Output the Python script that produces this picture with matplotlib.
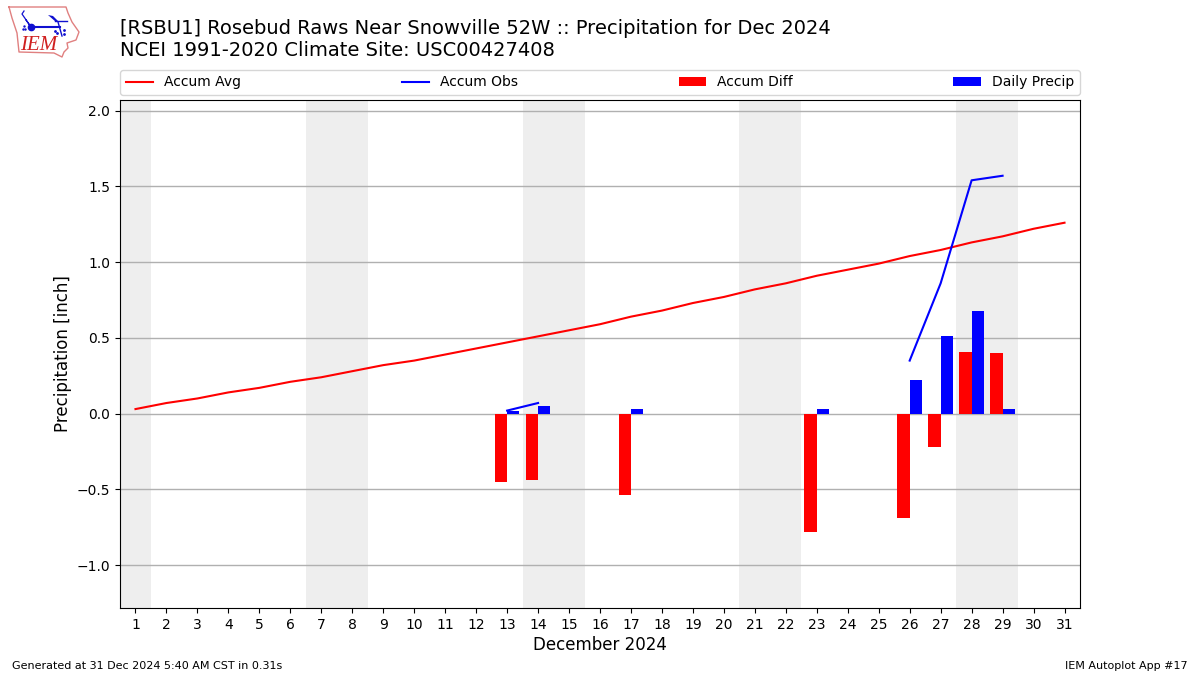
import numpy as np
import matplotlib
matplotlib.use("Agg")
import matplotlib.pyplot as plt

nan = np.nan

days = np.arange(1, 32)
accum_avg = [0.03, 0.07, 0.10, 0.14, 0.17, 0.21, 0.24, 0.28, 0.32, 0.35, 0.39,
             0.43, 0.47, 0.51, 0.55, 0.59, 0.64, 0.68, 0.73, 0.77, 0.82, 0.86,
             0.91, 0.95, 0.99, 1.04, 1.08, 1.13, 1.17, 1.22, 1.26]
accum_obs = [nan, nan, nan, nan, nan, nan, nan, nan, nan, nan, nan, nan,
             0.02, 0.07, nan, nan, 0.10, nan, nan, nan, nan, nan, 0.13, nan,
             nan, 0.35, 0.86, 1.54, 1.57, nan, nan]
accum_diff = [0, 0, 0, 0, 0, 0, 0, 0, 0, 0, 0, 0,
              -0.45, -0.44, 0, 0, -0.54, 0, 0, 0, 0, 0, -0.78, 0,
              0, -0.69, -0.22, 0.41, 0.40, 0, 0]
daily_precip = [0, 0, 0, 0, 0, 0, 0, 0, 0, 0, 0, 0,
                0.02, 0.05, 0, 0, 0.03, 0, 0, 0, 0, 0, 0.03, 0,
                0, 0.22, 0.51, 0.68, 0.03, 0, 0]
weekends = [(0.5, 1.5), (6.5, 8.5), (13.5, 15.5), (20.5, 22.5), (27.5, 29.5)]

# logo outline, in pixels of the figure
logo_x = [9, 66, 68, 72, 79, 76, 67, 68, 64, 62, 54, 19, 17, 12, 9]
logo_y = [7, 7, 13, 22, 32, 40, 43, 48, 52, 57, 53, 52, 33, 18, 7]

W, H = 1200.0, 675.0
fig = plt.figure(figsize=(12, 6.75), dpi=100)
ax = fig.add_axes([120 / W, 1 - 608 / H, 960 / W, 508 / H])

for x0, x1 in weekends:
    ax.axvspan(x0, x1, color="#EEEEEE", lw=0, zorder=0)

ax.bar(days, accum_diff, width=-0.4, align="edge", color="r", label="Accum Diff", zorder=3)
ax.bar(days, daily_precip, width=0.4, align="edge", color="b", label="Daily Precip", zorder=3)
ax.plot(days, accum_avg, color="r", lw=1.5, label="Accum Avg", zorder=4)
ax.plot(days, accum_obs, color="b", lw=1.5, label="Accum Obs", zorder=4)

ax.set_xlim(0.5, 31.5)
ax.set_ylim(-1.283, 2.07)
ax.set_xticks(days)
ax.set_yticks(np.arange(-1.0, 2.5, 0.5))
ax.grid(axis="y", color="#b0b0b0", lw=1.0, zorder=1)
ax.set_axisbelow(True)
ax.tick_params(labelsize=10)
ax.set_xlabel("December 2024", fontsize=12, labelpad=3)
ax.set_ylabel("Precipitation [inch]", fontsize=12, labelpad=3)

# legend order: lines first, then bars
handles, labels = ax.get_legend_handles_labels()
ax.legend(handles, labels, loc="lower left", bbox_to_anchor=(0, 1 + 5 / 508, 1, 0.05),
          mode="expand", ncol=4, borderaxespad=0, fontsize=10)

fig.text(120 / W, 1 - 29 / H, "[RSBU1] Rosebud Raws Near Snowville 52W :: Precipitation for Dec 2024",
         fontsize=14, va="center")
fig.text(120 / W, 1 - 50 / H, "NCEI 1991-2020 Climate Site: USC00427408", fontsize=14, va="center")
fig.text(12 / W, 1 - 666 / H, "Generated at 31 Dec 2024 5:40 AM CST in 0.31s", fontsize=8, va="center")
fig.text(1188 / W, 1 - 666 / H, "IEM Autoplot App #17", fontsize=8, va="center", ha="right")

# ----------------------------
# Logo, drawn in figure pixels
# ----------------------------
blue = "#1010d0"
logo = fig.add_axes([0, 0, 1, 1], facecolor="none")
logo.set_xlim(0, W)
logo.set_ylim(H, 0)
logo.axis("off")
logo.plot(logo_x, logo_y, color="#e08080", lw=1.0)
logo.plot([31, 60], [27, 27], color=blue, lw=1.5)
logo.plot([31], [27], "o", color=blue, ms=4.5)
logo.plot([26, 31, 22, 24], [20, 27, 14, 11], color=blue, lw=0.9)
logo.plot([24, 23, 25], [26, 29, 29], ".", color=blue, ms=1.5)
logo.fill([48, 53, 59, 56], [15, 16, 22, 22], color=blue, lw=0)
logo.plot([55, 67], [21, 21], color=blue, lw=1.0)
logo.plot([58, 62], [22, 36], color=blue, lw=1.0)
logo.plot([55, 57, 64, 64], [31, 33, 30, 34], ".", color=blue, ms=2)
logo.text(20, 45, "IEM", color="#d02020", fontsize=15, family="Liberation Serif",
          style="italic", va="center")

fig.savefig("out.png", dpi=100)
